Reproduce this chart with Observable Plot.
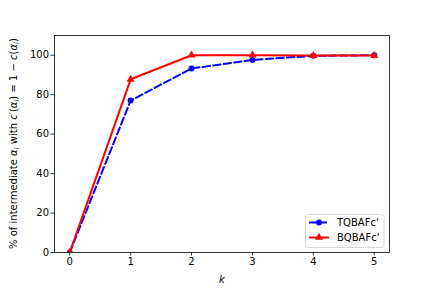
<!DOCTYPE html>
<html>
<head>
<meta charset="utf-8">
<script src="https://cdn.jsdelivr.net/npm/d3@7"></script>
<script src="https://cdn.jsdelivr.net/npm/@observablehq/plot@0.6"></script>
<style>
  html, body { margin: 0; padding: 0; background: #fff; }
  #chart svg { display: block; }
</style>
</head>
<body>
<div id="chart"></div>
<script>
const ks = [0, 1, 2, 3, 4, 5];
const tqValues = [0, 77.0, 93.3, 97.6, 99.7, 100];
const bqValues = [0, 87.8, 100, 100, 99.8, 99.8];
const seriesNames = ["TQBAFc'", "BQBAFc'"];
const seriesColors = ["#0000ff", "#ff0000"];
const xTicks = [0, 1, 2, 3, 4, 5];
const yTicks = [0, 20, 40, 60, 80, 100];

const tq = ks.map((k, i) => ({k, v: tqValues[i]}));
const bq = ks.map((k, i) => ({k, v: bqValues[i]}));

const font = "DejaVu Sans, sans-serif";

const chart = Plot.plot({
  width: 432,
  height: 288,
  marginLeft: 54,
  marginRight: 43,
  marginTop: 35,
  marginBottom: 36,
  style: {fontFamily: font, fontSize: "10px", color: "black", background: "white"},
  x: {domain: [-0.25, 5.25]},
  y: {domain: [0, 110]},
  marks: [
    Plot.axisX({ticks: xTicks, tickSize: 3.5, tickPadding: 2, tickFormat: d => String(d), label: null, fontSize: 10, stroke: "black", strokeWidth: 0.8}),
    Plot.axisY({ticks: yTicks, tickSize: 3.5, tickPadding: 2, tickFormat: d => String(d), label: null, fontSize: 10, stroke: "black", strokeWidth: 0.8}),
    Plot.line(tq, {x: "k", y: "v", stroke: seriesColors[0], strokeWidth: 2, strokeDasharray: "7.4,3.2", clip: "frame"}),
    Plot.dot(tq, {x: "k", y: "v", fill: seriesColors[0], r: 3, symbol: "circle", clip: "frame"}),
    Plot.line(bq, {x: "k", y: "v", stroke: seriesColors[1], strokeWidth: 2, clip: "frame"}),
    Plot.dot(bq, {x: "k", y: "v", fill: seriesColors[1], r: 3, symbol: "triangle", clip: "frame"}),
    Plot.frame({stroke: "black", strokeWidth: 0.8}),
    Plot.text(["k"], {frameAnchor: "bottom", dy: 30, fontStyle: "italic", fontSize: 10, fill: "black"})
  ]
});

document.getElementById("chart").appendChild(chart);

const svg = d3.select(chart);

// Y axis label with math-style italics
const yl = svg.append("text")
  .attr("transform", "translate(17,143.5) rotate(-90)")
  .attr("text-anchor", "middle")
  .attr("font-family", font)
  .attr("font-size", 10)
  .attr("fill", "black");
const parts = [
  ["% of intermediate ", null],
  ["α", "i"], ["i", "sub"],
  [" with ", null],
  ["c", "i"], ["′(", null], ["α", "i"], ["i", "sub"], [") = 1 − ", null],
  ["c", "i"], ["(", null], ["α", "i"], ["i", "sub"], [")", null]
];
let prevSub = false;
for (const [t, s] of parts) {
  const ts = yl.append("tspan").text(t);
  if (s === "i") ts.attr("font-style", "italic");
  if (s === "sub") ts.attr("font-style", "italic").attr("font-size", 7).attr("dy", 2);
  else if (prevSub) ts.attr("dy", -2);
  prevSub = s === "sub";
}

// Legend
const lg = svg.append("g").attr("font-family", font).attr("font-size", 10);
lg.append("rect")
  .attr("x", 305.5).attr("y", 214.5).attr("width", 78.5).attr("height", 33)
  .attr("rx", 2.5).attr("fill", "white").attr("fill-opacity", 0.8)
  .attr("stroke", "#cccccc").attr("stroke-width", 0.8);
const rows = [222.5, 237.5];
seriesNames.forEach((name, i) => {
  const y = rows[i];
  lg.append("line").attr("x1", 309).attr("x2", 329).attr("y1", y).attr("y2", y)
    .attr("stroke", seriesColors[i]).attr("stroke-width", 2)
    .attr("stroke-dasharray", i === 0 ? "7.4,3.2" : null);
  lg.append("path")
    .attr("transform", `translate(319,${y})`)
    .attr("d", d3.symbol(i === 0 ? d3.symbolCircle : d3.symbolTriangle, Math.PI * 9)())
    .attr("fill", seriesColors[i]);
  lg.append("text").attr("x", 337).attr("y", y).attr("dy", "0.35em")
    .attr("text-anchor", "start").attr("fill", "black").text(name);
});
</script>
</body>
</html>
